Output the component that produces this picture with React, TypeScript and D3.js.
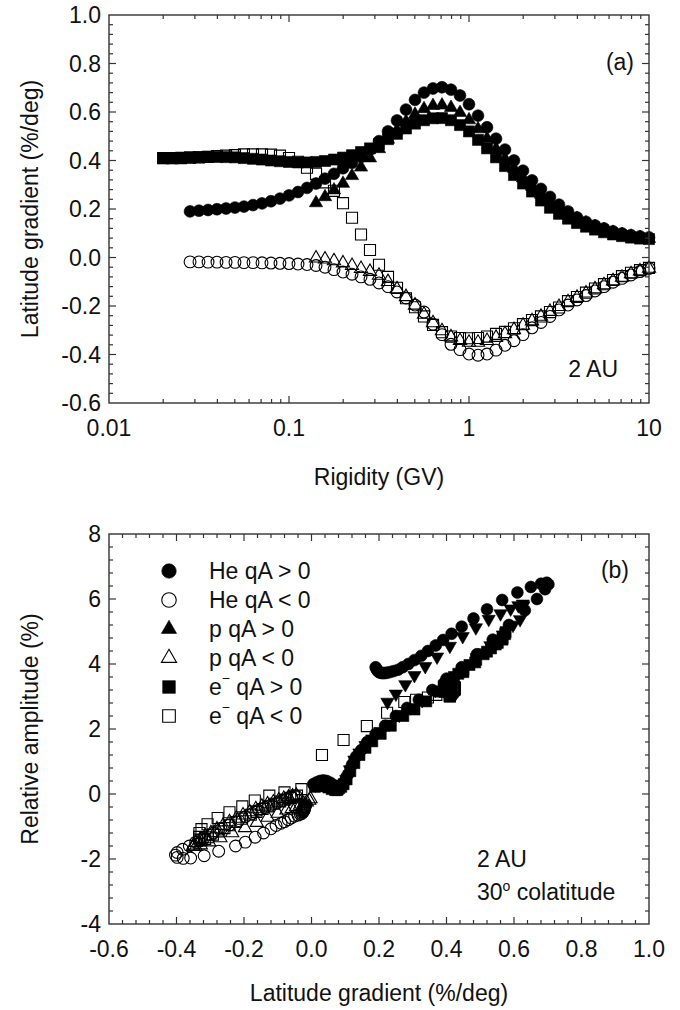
import React, { useEffect, useRef } from 'react';
import * as d3 from 'd3';

// ---------------- DATA ----------------
const RIGIDITY = [0.02, 0.0224, 0.0251, 0.0282, 0.0316, 0.0355, 0.0398, 0.0447, 0.0501, 0.0562, 0.0631, 0.0708, 0.0794, 0.0891, 0.1, 0.1122, 0.1259, 0.1413, 0.1585, 0.1778, 0.1995, 0.2239, 0.2512, 0.2818, 0.3162, 0.3548, 0.3981, 0.4467, 0.5012, 0.5623, 0.631, 0.7079, 0.7943, 0.8913, 1.0, 1.122, 1.259, 1.413, 1.585, 1.778, 1.995, 2.239, 2.512, 2.818, 3.162, 3.548, 3.981, 4.467, 5.012, 5.623, 6.31, 7.079, 7.943, 8.913, 10.0];

const N = null;
// latitude gradient (%/deg)
const GRAD_HE_POS = [N, N, N, 0.19, 0.193, 0.196, 0.199, 0.202, 0.206, 0.21, 0.216, 0.223, 0.232, 0.243, 0.256, 0.27, 0.287, 0.305, 0.325, 0.345, 0.368, 0.39, 0.415, 0.445, 0.48, 0.52, 0.565, 0.61, 0.65, 0.68, 0.697, 0.702, 0.692, 0.668, 0.632, 0.585, 0.537, 0.49, 0.445, 0.4, 0.358, 0.318, 0.283, 0.25, 0.218, 0.19, 0.165, 0.147, 0.132, 0.12, 0.108, 0.099, 0.092, 0.087, 0.083];
const GRAD_HE_NEG = [N, N, N, -0.018, -0.018, -0.019, -0.019, -0.02, -0.02, -0.021, -0.021, -0.022, -0.023, -0.024, -0.025, -0.027, -0.029, -0.033, -0.04, -0.05, -0.06, -0.069, -0.08, -0.09, -0.105, -0.12, -0.142, -0.167, -0.196, -0.225, -0.275, -0.318, -0.358, -0.38, -0.398, -0.403, -0.398, -0.382, -0.362, -0.343, -0.318, -0.29, -0.268, -0.243, -0.216, -0.196, -0.175, -0.157, -0.138, -0.12, -0.102, -0.086, -0.072, -0.058, -0.045];
const GRAD_P_POS = [N, N, N, N, N, N, N, N, N, N, N, N, N, N, N, N, N, 0.225, 0.25, 0.278, 0.305, 0.337, 0.372, 0.41, 0.448, 0.487, 0.525, 0.56, 0.59, 0.613, 0.626, 0.628, 0.618, 0.597, 0.567, 0.53, 0.49, 0.448, 0.407, 0.367, 0.328, 0.293, 0.26, 0.23, 0.204, 0.18, 0.16, 0.142, 0.127, 0.114, 0.103, 0.094, 0.087, 0.082, 0.078];
const GRAD_P_NEG = [N, N, N, N, N, N, N, N, N, N, N, N, N, N, N, N, N, -0.003, -0.007, -0.014, -0.023, -0.034, -0.046, -0.058, -0.074, -0.1, -0.13, -0.162, -0.197, -0.235, -0.27, -0.303, -0.328, -0.343, -0.35, -0.35, -0.343, -0.33, -0.315, -0.298, -0.28, -0.262, -0.243, -0.223, -0.203, -0.183, -0.165, -0.147, -0.13, -0.113, -0.097, -0.082, -0.068, -0.056, -0.045];
const GRAD_E_POS = [0.41, 0.41, 0.412, 0.413, 0.414, 0.415, 0.415, 0.414, 0.413, 0.41, 0.407, 0.404, 0.4, 0.397, 0.394, 0.392, 0.392, 0.394, 0.398, 0.404, 0.412, 0.422, 0.435, 0.45, 0.468, 0.488, 0.51, 0.532, 0.552, 0.566, 0.574, 0.575, 0.566, 0.546, 0.52, 0.485, 0.45, 0.413, 0.377, 0.34, 0.305, 0.272, 0.235, 0.205, 0.18, 0.16, 0.142, 0.127, 0.115, 0.104, 0.095, 0.088, 0.082, 0.078, 0.076];
const GRAD_E_NEG = [0.41, 0.41, 0.41, 0.412, 0.413, 0.415, 0.418, 0.42, 0.422, 0.425, 0.425, 0.425, 0.424, 0.42, 0.41, 0.395, 0.37, 0.345, 0.31, 0.275, 0.224, 0.164, 0.095, 0.031, -0.03, -0.08, -0.125, -0.168, -0.205, -0.243, -0.278, -0.308, -0.326, -0.332, -0.333, -0.332, -0.326, -0.315, -0.307, -0.292, -0.275, -0.258, -0.243, -0.225, -0.206, -0.18, -0.163, -0.145, -0.128, -0.11, -0.093, -0.077, -0.063, -0.052, -0.043];

// relative amplitude (%)
const AMP_HE_POS = [N, N, N, 3.9, 3.84, 3.79, 3.76, 3.74, 3.73, 3.72, 3.72, 3.73, 3.75, 3.78, 3.82, 3.9, 4.0, 4.12, 4.25, 4.4, 4.57, 4.74, 4.93, 5.15, 5.4, 5.68, 5.97, 6.2, 6.37, 6.47, 6.5, 6.45, 6.3, 6.0, 5.65, 5.2, 4.75, 4.3, 3.9, 3.55, 3.2, 2.9, 2.65, 2.4, 2.1, 1.85, 1.6, 1.35, 1.15, 0.9, 0.6, 0.4, 0.3, 0.25, 0.2];
const AMP_HE_NEG = [N, N, N, -0.32, -0.35, -0.37, -0.39, -0.41, -0.43, -0.45, -0.47, -0.49, -0.51, -0.53, -0.55, -0.57, -0.6, -0.62, -0.65, -0.68, -0.74, -0.79, -0.85, -0.9, -0.97, -1.07, -1.2, -1.33, -1.48, -1.6, -1.76, -1.9, -1.97, -1.98, -1.95, -1.88, -1.8, -1.7, -1.6, -1.48, -1.35, -1.2, -1.08, -0.95, -0.82, -0.7, -0.6, -0.5, -0.42, -0.34, -0.27, -0.2, -0.15, -0.1, -0.06];
const AMP_P_POS = [N, N, N, N, N, N, N, N, N, N, N, N, N, N, N, N, N, 2.83, 3.08, 3.37, 3.65, 3.93, 4.22, 4.55, 4.85, 5.12, 5.38, 5.55, 5.7, 5.8, 5.85, 5.8, 5.37, 5.2, 4.9, 4.57, 4.2, 3.85, 3.5, 3.2, 2.88, 2.66, 2.43, 2.15, 1.93, 1.7, 1.5, 1.27, 1.05, 0.75, 0.45, 0.3, 0.25, 0.2, 0.18];
const AMP_P_NEG = [N, N, N, N, N, N, N, N, N, N, N, N, N, N, N, N, N, -0.15, -0.2, -0.25, -0.3, -0.35, -0.4, -0.45, -0.5, -0.6, -0.72, -0.88, -1.04, -1.2, -1.35, -1.48, -1.57, -1.62, -1.62, -1.58, -1.5, -1.4, -1.3, -1.2, -1.08, -0.97, -0.86, -0.75, -0.65, -0.55, -0.46, -0.38, -0.31, -0.25, -0.19, -0.14, -0.1, -0.07, -0.04];
const AMP_E_POS = [3.0, 3.02, 3.05, 3.08, 3.1, 3.12, 3.15, 3.17, 3.2, 3.22, 3.25, 3.27, 3.3, 3.3, 3.3, 3.3, 3.32, 3.35, 3.4, 3.45, 3.52, 3.6, 3.7, 3.82, 3.97, 4.13, 4.3, 4.48, 4.65, 4.8, 4.92, 4.98, 4.75, 4.6, 4.38, 4.05, 3.75, 3.45, 3.15, 2.85, 2.6, 2.4, 2.1, 1.85, 1.62, 1.42, 1.2, 0.95, 0.7, 0.45, 0.3, 0.22, 0.18, 0.15, 0.12];
const AMP_E_NEG = [3.0, 3.02, 3.05, 3.08, 3.1, 3.12, 3.15, 3.18, 3.2, 3.22, 3.25, 3.27, 3.28, 3.28, 3.25, 3.15, 3.05, 2.97, 2.9, 2.83, 2.5, 2.09, 1.66, 1.2, 0.15, 0.05, -0.05, -0.2, -0.38, -0.56, -0.74, -0.93, -1.08, -1.2, -1.32, -1.4, -1.42, -1.38, -1.33, -1.25, -1.15, -1.05, -0.96, -0.86, -0.76, -0.64, -0.55, -0.46, -0.38, -0.3, -0.23, -0.17, -0.12, -0.08, -0.05];

// panel (b) only: rigidities above 10 GV (beyond the panel (a) axis)
const EXT_GRAD_HE_POS = [0.075, 0.065, 0.055, 0.045, 0.035, 0.025, 0.015, 0.005];
const EXT_AMP_HE_POS = [0.22, 0.28, 0.35, 0.4, 0.42, 0.4, 0.36, 0.3];
const EXT_GRAD_P_POS = [0.072, 0.062, 0.052, 0.042, 0.032, 0.022, 0.012];
const EXT_AMP_P_POS = [0.18, 0.22, 0.28, 0.32, 0.33, 0.32, 0.28];
const EXT_GRAD_E_POS = [0.07, 0.06, 0.05, 0.04, 0.03, 0.02, 0.01];
const EXT_AMP_E_POS = [0.12, 0.15, 0.2, 0.24, 0.26, 0.25, 0.22];

const LEGEND_LABELS = ['He qA > 0', 'He qA < 0', 'p qA > 0', 'p qA < 0', 'e qA > 0', 'e qA < 0'];
const TOP_Y_TICKS = [-0.6, -0.4, -0.2, 0.0, 0.2, 0.4, 0.6, 0.8, 1.0];
const TOP_X_TICKS = [0.01, 0.1, 1, 10];
const BOT_X_TICKS = [-0.6, -0.4, -0.2, 0.0, 0.2, 0.4, 0.6, 0.8, 1.0];
const BOT_Y_TICKS = [-4, -2, 0, 2, 4, 6, 8];

// ---------------- LAYOUT ----------------
const W = 680, H = 1010;
const PL = 109, PR = 649;
const A_TOP = 15, A_BOT = 403;
const B_TOP = 534, B_BOT = 924;
const FONT = '"Liberation Sans", Arial, Helvetica, sans-serif';
const FS = 23;

type Kind = 'circle' | 'square' | 'triangle' | 'triangleDown';

export default function App() {
  const ref = useRef<SVGSVGElement>(null);

  useEffect(() => {
    const svg = d3.select(ref.current);
    svg.selectAll('*').remove();

    const symbolPath = (kind: Kind, size: number) => {
      const t = kind === 'circle' ? d3.symbolCircle : kind === 'square' ? d3.symbolSquare : d3.symbolTriangle;
      return d3.symbol().type(t).size(size)() as string;
    };
    const sizeOf = (kind: Kind) => (kind === 'circle' ? 110 : kind === 'square' ? 122 : 76);

    const drawMarkers = (g: any, pts: [number, number][], kind: Kind, filled: boolean, size?: number) => {
      const p = symbolPath(kind, size ?? sizeOf(kind));
      g.selectAll(null)
        .data(pts)
        .enter()
        .append('path')
        .attr('d', p)
        .attr('transform', (d: [number, number]) => `translate(${d[0]},${d[1]})${kind === 'triangleDown' ? ' rotate(180)' : ''}`)
        .attr('fill', filled ? '#000' : 'none')
        .attr('stroke', '#000')
        .attr('stroke-width', filled ? 0.6 : 1.1);
    };

    const frame = (top: number, bottom: number) => {
      svg.append('rect').attr('x', PL).attr('y', top).attr('width', PR - PL).attr('height', bottom - top)
        .attr('fill', 'none').attr('stroke', '#333').attr('stroke-width', 1.4);
    };

    const tickLine = (x1: number, y1: number, x2: number, y2: number) => {
      svg.append('line').attr('x1', x1).attr('y1', y1).attr('x2', x2).attr('y2', y2)
        .attr('stroke', '#333').attr('stroke-width', 1.2);
    };

    const text = (x: number, y: number, s: string, anchor = 'middle', size = FS) =>
      svg.append('text').attr('x', x).attr('y', y).attr('text-anchor', anchor)
        .attr('dominant-baseline', 'central').attr('font-family', FONT).attr('font-size', size)
        .attr('fill', '#111').text(s);

    const MAJ = 7, MIN = 4;

    // ============ PANEL A ============
    const xA = d3.scaleLog().domain([0.01, 10]).range([PL, PR]);
    const yA = d3.scaleLinear().domain([-0.6, 1.0]).range([A_BOT, A_TOP]);

    const gA = svg.append('g');
    const ptsA = (vals: (number | null)[]) =>
      RIGIDITY.map((r, i) => [r, vals[i]] as [number, number | null])
        .filter(d => d[1] !== null)
        .map(d => [xA(d[0]), yA(d[1] as number)] as [number, number]);

    drawMarkers(gA, ptsA(GRAD_HE_NEG), 'circle', false);
    drawMarkers(gA, ptsA(GRAD_P_NEG), 'triangle', false);
    drawMarkers(gA, ptsA(GRAD_E_NEG), 'square', false);
    drawMarkers(gA, ptsA(GRAD_E_POS), 'square', true);
    drawMarkers(gA, ptsA(GRAD_P_POS), 'triangle', true);
    drawMarkers(gA, ptsA(GRAD_HE_POS), 'circle', true);

    frame(A_TOP, A_BOT);
    xA.ticks().forEach(v => {
      const isMaj = TOP_X_TICKS.some(m => Math.abs(m - v) / m < 1e-6);
      const len = isMaj ? MAJ : MIN;
      const x = xA(v);
      if (x <= PL + 0.5 || x >= PR - 0.5) return;
      tickLine(x, A_BOT, x, A_BOT - len);
      tickLine(x, A_TOP, x, A_TOP + len);
    });
    TOP_X_TICKS.forEach(v => text(xA(v), A_BOT + 25, String(v)));
    d3.range(-0.6, 1.0001, 0.04).forEach(v => {
      const isMaj = TOP_Y_TICKS.some(m => Math.abs(m - v) < 1e-6);
      const len = isMaj ? MAJ : MIN;
      const y = yA(v);
      if (y >= A_BOT - 0.5 || y <= A_TOP + 0.5) return;
      tickLine(PL, y, PL + len, y);
      tickLine(PR, y, PR - len, y);
    });
    TOP_Y_TICKS.forEach(v => text(PL - 8, yA(v), d3.format('.1f')(v).replace('\u2212', '-'), 'end'));

    text((PL + PR) / 2, 477, 'Rigidity (GV)');
    svg.append('text').attr('transform', `translate(30,${(A_TOP + A_BOT) / 2}) rotate(-90)`)
      .attr('text-anchor', 'middle').attr('dominant-baseline', 'central')
      .attr('font-family', FONT).attr('font-size', FS).attr('fill', '#111')
      .text('Latitude gradient (%/deg)');
    text(634, 62, '(a)', 'end');
    svg.append('text').attr('x', 618).attr('y', 377).attr('text-anchor', 'end')
      .attr('font-family', FONT).attr('font-size', FS).attr('fill', '#111').text('2 AU');

    // ============ PANEL B ============
    const xB = d3.scaleLinear().domain([-0.6, 1.0]).range([PL, PR]);
    const yB = d3.scaleLinear().domain([-4, 8]).range([B_BOT, B_TOP]);
    const gB = svg.append('g');
    const ptsB = (gx: (number | null)[], ay: (number | null)[]) =>
      gx.map((g, i) => [g, ay[i]] as [number | null, number | null])
        .filter(d => d[0] !== null && d[1] !== null)
        .map(d => [xB(d[0] as number), yB(d[1] as number)] as [number, number]);

    drawMarkers(gB, ptsB(GRAD_HE_NEG, AMP_HE_NEG), 'circle', false);
    drawMarkers(gB, ptsB(GRAD_P_NEG, AMP_P_NEG), 'triangle', false);
    drawMarkers(gB, ptsB(GRAD_E_NEG, AMP_E_NEG), 'square', false);
    drawMarkers(gB, ptsB([...GRAD_E_POS, ...EXT_GRAD_E_POS], [...AMP_E_POS, ...EXT_AMP_E_POS]), 'square', true);
    drawMarkers(gB, ptsB([...GRAD_P_POS, ...EXT_GRAD_P_POS], [...AMP_P_POS, ...EXT_AMP_P_POS]), 'triangleDown', true);
    drawMarkers(gB, ptsB([...GRAD_HE_POS, ...EXT_GRAD_HE_POS], [...AMP_HE_POS, ...EXT_AMP_HE_POS]), 'circle', true);

    frame(B_TOP, B_BOT);
    d3.range(-0.6, 1.0001, 0.04).forEach(v => {
      const isMaj = BOT_X_TICKS.some(m => Math.abs(m - v) < 1e-6);
      const len = isMaj ? MAJ : MIN;
      const x = xB(v);
      if (x <= PL + 0.5 || x >= PR - 0.5) return;
      tickLine(x, B_BOT, x, B_BOT - len);
      tickLine(x, B_TOP, x, B_TOP + len);
    });
    BOT_X_TICKS.forEach(v => text(xB(v), B_BOT + 25, d3.format('.1f')(v).replace('\u2212', '-')));
    d3.range(-4, 8.0001, 0.4).forEach(v => {
      const isMaj = BOT_Y_TICKS.some(m => Math.abs(m - v) < 1e-6);
      const len = isMaj ? MAJ : MIN;
      const y = yB(v);
      if (y >= B_BOT - 0.5 || y <= B_TOP + 0.5) return;
      tickLine(PL, y, PL + len, y);
      tickLine(PR, y, PR - len, y);
    });
    BOT_Y_TICKS.forEach(v => text(PL - 8, yB(v), String(v).replace('\u2212', '-'), 'end'));

    text((PL + PR) / 2, 993, 'Latitude gradient (%/deg)');
    svg.append('text').attr('transform', `translate(30,${(B_TOP + B_BOT) / 2}) rotate(-90)`)
      .attr('text-anchor', 'middle').attr('dominant-baseline', 'central')
      .attr('font-family', FONT).attr('font-size', FS).attr('fill', '#111')
      .text('Relative amplitude (%)');
    svg.append('text').attr('x', 629).attr('y', 578).attr('text-anchor', 'end')
      .attr('font-family', FONT).attr('font-size', FS).attr('fill', '#111').text('(b)');
    svg.append('text').attr('x', 477).attr('y', 867)
      .attr('font-family', FONT).attr('font-size', FS).attr('fill', '#111').text('2 AU');
    const col = svg.append('text').attr('x', 477).attr('y', 900)
      .attr('font-family', FONT).attr('font-size', FS).attr('fill', '#111');
    col.append('tspan').text('30');
    col.append('tspan').attr('dy', -9).attr('font-size', 14).text('o');
    col.append('tspan').attr('dy', 9).text(' colatitude');

    // legend
    const legendKinds: [Kind, boolean][] = [
      ['circle', true], ['circle', false], ['triangle', true], ['triangle', false], ['square', true], ['square', false],
    ];
    const legendSizes: Record<string, number> = { circle: 165, triangle: 100, square: 160 };
    LEGEND_LABELS.forEach((lab, i) => {
      const y = 571 + i * 29;
      const [kind, filled] = legendKinds[i];
      const gl = svg.append('g');
      drawMarkers(gl, [[169, y]], kind, filled, legendSizes[kind]);
      const t = svg.append('text').attr('x', 209).attr('y', y).attr('dominant-baseline', 'central')
        .attr('font-family', FONT).attr('font-size', FS).attr('fill', '#111');
      if (lab.startsWith('e ')) {
        t.append('tspan').text('e');
        t.append('tspan').attr('dy', -9).attr('font-size', 14).text('\u2212');
        t.append('tspan').attr('dy', 9).text(lab.slice(1));
      } else {
        t.text(lab);
      }
    });
  }, []);

  return (
    <svg
      ref={ref}
      width={W}
      height={H}
      viewBox={`0 0 ${W} ${H}`}
      style={{ position: 'absolute', left: 0, top: 0, background: '#fff' }}
    />
  );
}
